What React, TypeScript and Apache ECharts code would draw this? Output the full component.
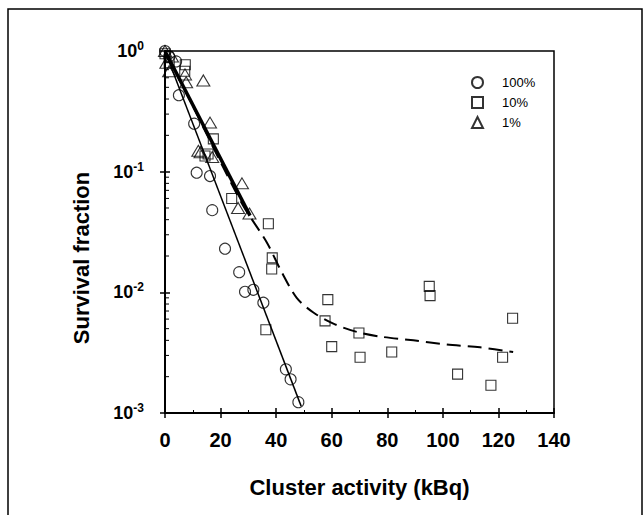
import React, { useEffect, useRef } from "react";
import * as echarts from "echarts";

// ---- data ----
const circles100: number[][] = [
  [0, 1], [1.5, 0.9], [4, 0.82], [5, 0.43], [10.5, 0.25], [11.4, 0.098], [16.2, 0.092],
  [17, 0.048], [21.6, 0.023], [26.7, 0.0147], [28.8, 0.0101], [31.8, 0.0105], [35.4, 0.0082],
  [43.5, 0.0023], [45.2, 0.0019], [48, 0.00123],
];
const squares10: number[][] = [
  [0, 0.95], [1.5, 0.8], [7.3, 0.77], [7.1, 0.68], [14.4, 0.135], [15.5, 0.14], [17.4, 0.187],
  [24, 0.06], [36.3, 0.0049], [37.2, 0.037], [38.4, 0.0156], [38.6, 0.0193], [57.6, 0.0058],
  [58.6, 0.0087], [60, 0.00355], [69.8, 0.0046], [70.2, 0.0029], [81.6, 0.0032], [95.1, 0.0112],
  [95.4, 0.0094], [105.3, 0.0021], [117.3, 0.0017], [121.5, 0.0029], [125.1, 0.0061],
];
const triangles1: number[][] = [
  [0, 1], [0.5, 0.8], [2.5, 0.9], [1.5, 0.68], [7.2, 0.64], [7.6, 0.55], [13.8, 0.57],
  [16.2, 0.255], [12, 0.149], [12.8, 0.145], [17, 0.132], [26.3, 0.05], [27.7, 0.08], [30.4, 0.045],
];
const fit100: number[][] = [[0, 1], [49, 0.00114]];
const fit1: number[][] = [[0, 1], [30.6, 0.0432]];
const fit10: number[][] = [
  [0, 1], [10, 0.35], [20, 0.12], [28.2, 0.052], [36.6, 0.026], [42, 0.0147], [47.4, 0.009],
  [53.4, 0.0068], [60.6, 0.0055], [69, 0.0047], [77.4, 0.0043], [89.4, 0.004], [101.4, 0.0037],
  [113.4, 0.0035], [125.3, 0.0032],
];
const seriesNames = ["100%", "10%", "1%"];
const yMinorTicks: number[] = [
  0.002, 0.003, 0.004, 0.005, 0.006, 0.007, 0.008, 0.009,
  0.02, 0.03, 0.04, 0.05, 0.06, 0.07, 0.08, 0.09,
  0.2, 0.3, 0.4, 0.5, 0.6, 0.7, 0.8, 0.9,
];
const xTitle = "Cluster activity (kBq)";
const yTitle = "Survival fraction";

const FONT = "'Liberation Sans', Arial, Helvetica, sans-serif";

export default function App() {
  const ref = useRef<HTMLDivElement>(null);
  useEffect(() => {
    if (!ref.current) return;
    const chart = echarts.init(ref.current, undefined, { renderer: "svg" });
    const markerStyle = { color: "rgba(0,0,0,0)", borderColor: "#000", borderWidth: 1.1 };
    const xBase = { type: "value", min: 0, max: 140, interval: 20, gridIndex: 0 };
    const yBase = { type: "log", logBase: 10, min: 0.001, max: 1, gridIndex: 0 };
    chart.setOption({
      animation: false,
      backgroundColor: "#fff",
      textStyle: { fontFamily: FONT },
      grid: {
        left: 165, top: 51, right: 90, bottom: 102,
        show: true, borderColor: "#000", borderWidth: 1.5, backgroundColor: "transparent",
      },
      graphic: [
        {
          type: "rect", silent: true, z: -10,
          shape: { x: 8, y: 9, width: 634, height: 530 },
          style: { fill: "none", stroke: "#000", lineWidth: 1.5 },
        },
        {
          type: "text", silent: true, x: 81, y: 258, rotation: Math.PI / 2,
          style: {
            text: yTitle, font: `bold 22px ${FONT}`, fill: "#000",
            textAlign: "center", textVerticalAlign: "middle",
          },
        },
      ],
      legend: {
        orient: "vertical", left: 466, top: 71, itemWidth: 11, itemHeight: 11, itemGap: 7,
        data: seriesNames,
        textStyle: { fontFamily: FONT, fontSize: 13, color: "#000", padding: [0, 0, 0, 14] },
      },
      xAxis: [
        {
          ...xBase, position: "bottom",
          axisLine: { lineStyle: { color: "#000", width: 2 } },
          axisTick: { show: true, length: 5, lineStyle: { color: "#000", width: 1.5 } },
          axisLabel: { fontSize: 20, fontWeight: "bold", color: "#000", margin: 17, fontFamily: FONT },
          splitLine: { show: false },
          name: xTitle, nameLocation: "middle", nameGap: 63,
          nameTextStyle: { fontSize: 22, fontWeight: "bold", color: "#000", fontFamily: FONT },
        },
        {
          ...xBase, position: "bottom",
          axisLine: { show: false },
          axisTick: { show: true, inside: true, length: 5, lineStyle: { color: "#000", width: 1.5 } },
          minorTick: { show: true, splitNumber: 2, length: 3, lineStyle: { color: "#000", width: 1 } },
          axisLabel: { show: false }, splitLine: { show: false },
        },
      ],
      yAxis: [
        {
          ...yBase, position: "left",
          axisLine: { show: true, lineStyle: { color: "#000", width: 2 } },
          axisTick: { show: true, length: 5, lineStyle: { color: "#000", width: 1.5 } },
          axisLabel: {
            margin: 21, color: "#000",
            formatter: (v: number) => `{b|10}{s|${Math.round(Math.log10(v))}}`,
            rich: {
              b: { fontSize: 18, fontWeight: "bold", fontFamily: FONT, color: "#000", lineHeight: 22 },
              s: { fontSize: 12, fontWeight: "bold", fontFamily: FONT, color: "#000", verticalAlign: "top", lineHeight: 14 },
            },
          },
          splitLine: { show: false },
        },
        {
          ...yBase, position: "left",
          axisLine: { show: false },
          axisTick: { show: true, inside: true, length: 5, lineStyle: { color: "#000", width: 1.5 } },
          axisLabel: { show: false }, splitLine: { show: false },
        },
      ],
      series: [
        {
          type: "custom", name: "yMinor", xAxisIndex: 0, yAxisIndex: 0, silent: true, clip: false,
          data: yMinorTicks.map((v) => [0, v]),
          encode: { x: 0, y: 1 },
          renderItem: (_p: any, api: any) => {
            const pt = api.coord([api.value(0), api.value(1)]);
            return {
              type: "line",
              shape: { x1: pt[0], y1: pt[1], x2: pt[0] + 4, y2: pt[1] },
              style: { stroke: "#000", lineWidth: 1 },
            };
          },
        },
        {
          type: "line", name: "fit 100%", data: fit100, symbol: "none", silent: true,
          lineStyle: { color: "#000", width: 1.5 },
        },
        {
          type: "line", name: "fit 10%", data: fit10, symbol: "none", silent: true, smooth: 0.3,
          lineStyle: { color: "#000", width: 2, type: [14, 7] },
        },
        {
          type: "line", name: "fit 1%", data: fit1, symbol: "none", silent: true,
          lineStyle: { color: "#000", width: 3.5 },
        },
        {
          type: "scatter", name: seriesNames[0], data: circles100, symbol: "circle", symbolSize: 11,
          itemStyle: markerStyle, z: 5,
        },
        {
          type: "scatter", name: seriesNames[1], data: squares10, symbol: "rect", symbolSize: 10,
          itemStyle: markerStyle, z: 5,
        },
        {
          type: "scatter", name: seriesNames[2], data: triangles1, symbol: "triangle", symbolSize: [13, 11],
          itemStyle: markerStyle, z: 5,
        },
      ],
    });
    return () => chart.dispose();
  }, []);
  return (
    <div
      ref={ref}
      style={{ position: "fixed", left: 0, top: 0, width: 644, height: 515, background: "#fff" }}
    />
  );
}
